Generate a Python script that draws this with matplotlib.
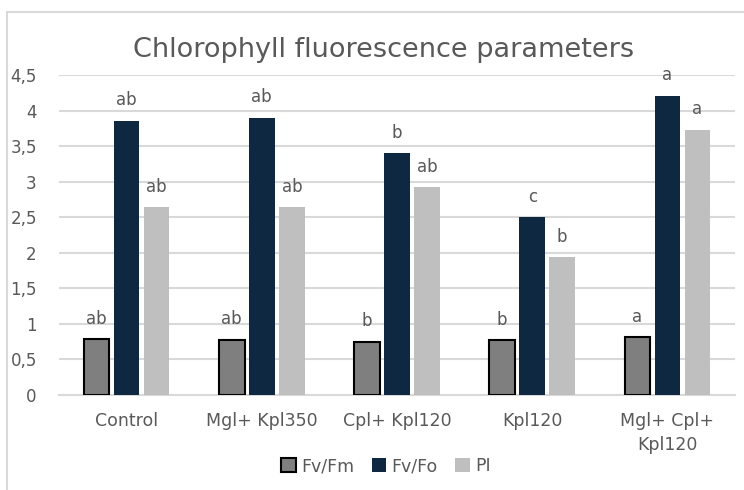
import numpy as np
import matplotlib.pyplot as plt
from matplotlib.patches import Rectangle

categories = ['Control', 'Mgl+ Kpl350', 'Cpl+ Kpl120', 'Kpl120', 'Mgl+ Cpl+\nKpl120']
series = ['Fv/Fm', 'Fv/Fo', 'PI']
fv_fm = [0.79, 0.78, 0.75, 0.77, 0.81]
fv_fo = [3.86, 3.90, 3.40, 2.50, 4.21]
pi = [2.64, 2.64, 2.92, 1.94, 3.73]
letters_fm = ['ab', 'ab', 'b', 'b', 'a']
letters_fo = ['ab', 'ab', 'b', 'c', 'a']
letters_pi = ['ab', 'ab', 'ab', 'b', 'a']
yticks = [0, 0.5, 1, 1.5, 2, 2.5, 3, 3.5, 4, 4.5]

text_col = '#595959'
grid_col = '#d9d9d9'
plt.rcParams['font.family'] = ['DejaVu Sans']

fig = plt.figure(figsize=(7.44, 4.9), dpi=100)
ax = fig.add_axes([59 / 744, 1 - 395 / 490, 676 / 744, 320 / 490])

# chart frame (cropped on right/bottom)
fig.patches.append(Rectangle((7 / 744, -0.1), 1.1, (490 - 12) / 490 + 0.1,
                             transform=fig.transFigure, fill=False,
                             edgecolor=grid_col, linewidth=1.5))

x = np.arange(len(categories))
w = 0.19
step = 0.222
ax.bar(x - step, fv_fm, w, color='#7f7f7f', edgecolor='black', linewidth=1.5,
       label=series[0], zorder=3)
ax.bar(x, fv_fo, w, color='#0e2841', label=series[1], zorder=3)
ax.bar(x + step, pi, w, color='#bfbfbf', label=series[2], zorder=3)

for vals, labs, off in [(fv_fm, letters_fm, -step), (fv_fo, letters_fo, 0), (pi, letters_pi, step)]:
    for xi, v, l in zip(x, vals, labs):
        ax.annotate(l, (xi + off, v), xytext=(0, 11), textcoords='offset points',
                    ha='center', va='baseline', fontsize=12, color=text_col)

ax.set_xlim(-0.5, len(categories) - 0.5)
ax.set_ylim(0, 4.5)
ax.set_yticks(yticks)
ax.set_yticklabels([('%g' % t).replace('.', ',') for t in yticks])
ax.set_xticks(x)
ax.set_xticklabels(categories, fontsize=12.5, linespacing=1.45)
ax.tick_params(axis='both', length=0, labelcolor=text_col)
ax.tick_params(axis='y', pad=16, labelsize=12)
ax.tick_params(axis='x', pad=12)
ax.grid(axis='y', color=grid_col, linewidth=1.5, zorder=0)
for s in ['top', 'right', 'left']:
    ax.spines[s].set_visible(False)
ax.spines['bottom'].set_color(grid_col)
ax.spines['bottom'].set_linewidth(1.5)

fig.text(384 / 744, 1 - 50 / 490, 'Chlorophyll fluorescence parameters',
         ha='center', va='center', fontsize=19.5, color=text_col)

fig.legend(loc='center', bbox_to_anchor=(386 / 744, 1 - 466 / 490), ncol=3,
           frameon=False, fontsize=12.5, labelcolor=text_col, handlelength=0.85,
           handleheight=0.85, handletextpad=0.3, columnspacing=1.0)

plt.savefig('out.png', dpi=100)
